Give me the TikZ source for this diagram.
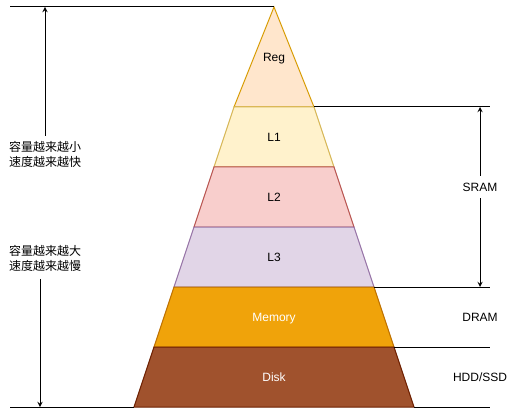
\documentclass[tikz,border=0pt]{standalone}
\usepackage{fontspec}
\setmainfont{Liberation Sans}
\newfontfamily\cjk{Noto Sans CJK SC}
\usepackage{xcolor}
\definecolor{RegFill}{HTML}{FFE6CC}
\definecolor{RegLine}{HTML}{D79B00}
\definecolor{LOneFill}{HTML}{FFF2CC}
\definecolor{LOneLine}{HTML}{D6B656}
\definecolor{LTwoFill}{HTML}{F8CECC}
\definecolor{LTwoLine}{HTML}{B85450}
\definecolor{LThreeFill}{HTML}{E1D5E7}
\definecolor{LThreeLine}{HTML}{9673A6}
\definecolor{MemFill}{HTML}{F0A30A}
\definecolor{MemLine}{HTML}{BD7000}
\definecolor{DiskFill}{HTML}{A0522D}
\definecolor{DiskLine}{HTML}{6D1F00}
\usetikzlibrary{positioning}
\usetikzlibrary{calc}

\begin{document}
\begin{tikzpicture}[
      , x=0.75pt, y=-0.75pt
      , layer/.style={line width=0.75pt, line join=miter}
      , tier/.style={font=\fontsize{9}{11}\selectfont, inner sep=1pt, text height=6.5pt, text depth=0pt}
      , hint/.style={font=\cjk\fontsize{9}{11.25}\selectfont, align=left, inner sep=0pt}
      , rule/.style={black, line width=0.75pt}
      ]

      \tikzset{>=stealth}
      \useasboundingbox (0,0) rectangle (516,416);

      % pyramid corners
      \coordinate (apex) at (274,7);
      \coordinate (reg-l) at (234,107);   \coordinate (reg-r) at (314,107);
      \coordinate (l1-l) at (214,167);    \coordinate (l1-r) at (334,167);
      \coordinate (l2-l) at (194,227);    \coordinate (l2-r) at (354,227);
      \coordinate (l3-l) at (174,287);    \coordinate (l3-r) at (374,287);
      \coordinate (mem-l) at (154,347);   \coordinate (mem-r) at (394,347);
      \coordinate (disk-l) at (134,407);  \coordinate (disk-r) at (414,407);

      \draw[layer, fill=RegFill, draw=RegLine] (apex) -- (reg-r) -- (reg-l) -- cycle;
      \draw[layer, fill=LOneFill, draw=LOneLine] (reg-l) -- (reg-r) -- (l1-r) -- (l1-l) -- cycle;
      \draw[layer, fill=LTwoFill, draw=LTwoLine] (l1-l) -- (l1-r) -- (l2-r) -- (l2-l) -- cycle;
      \draw[layer, fill=LThreeFill, draw=LThreeLine] (l2-l) -- (l2-r) -- (l3-r) -- (l3-l) -- cycle;
      \draw[layer, fill=MemFill, draw=MemLine] (l3-l) -- (l3-r) -- (mem-r) -- (mem-l) -- cycle;
      \draw[layer, fill=DiskFill, draw=DiskLine] (mem-l) -- (mem-r) -- (disk-r) -- (disk-l) -- cycle;

      \node[tier] (reg) at (274,57) {Reg};
      \node[tier] (l1) at (274,137) {L1};
      \node[tier] (l2) at (274,197) {L2};
      \node[tier] (l3) at (274,257) {L3};
      \node[tier, white] (mem) at (274,317) {Memory};
      \node[tier, white] (disk) at (274,377) {Disk};

      % guide lines
      \coordinate (top-left) at (10,7);
      \coordinate (bottom-left) at (10,407);
      \coordinate (reg-end) at (490,107);
      \coordinate (l3-end) at (490,287);
      \coordinate (mem-end) at (490,347);
      \coordinate (disk-end) at (490,407);

      \draw[rule] (top-left) -- (apex);
      \draw[rule] (bottom-left) -- (disk-l);
      \draw[rule] (reg-r) -- (reg-end);
      \draw[rule] (l3-r) -- (l3-end);
      \draw[rule] (mem-r) -- (mem-end);
      \draw[rule] (disk-r) -- (disk-end);

      % left hints
      \node[hint] (small) at (45,154) {容量越来越小\\速度越来越快};
      \node[hint] (big) at (45,258.5) {容量越来越大\\速度越来越慢};
      \coordinate (small-tip) at (45,7);
      \coordinate (big-tip) at (40,407);

      \draw[rule, ->] ($ (small.north) + (0,-5) $) -- (small-tip);
      \draw[rule, ->] ($ (big.south -| big-tip) + (0,7) $) -- (big-tip);

      % right labels
      \node[tier, inner sep=5pt] (sram) at (480,187) {SRAM};
      \node[tier] (dram) at (480,317) {DRAM};
      \node[tier] (hdd) at (480,377) {HDD/SSD};
      \coordinate (sram-top) at (480,107);
      \coordinate (sram-bot) at (480,287);

      \draw[rule, ->] (sram) -- (sram-top);
      \draw[rule, ->] (sram) -- (sram-bot);
    \end{tikzpicture}
\end{document}
